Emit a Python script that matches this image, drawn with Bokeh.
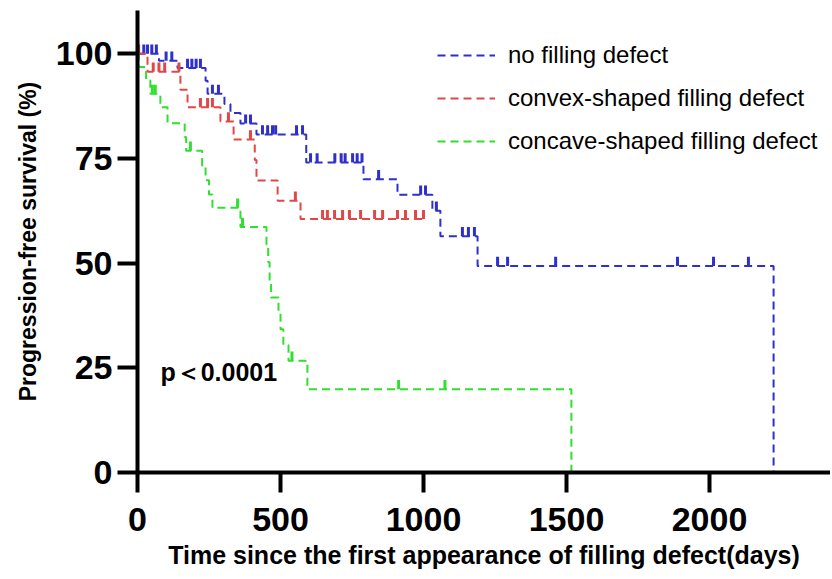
import numpy as np
from bokeh.plotting import figure
from bokeh.models import FixedTicker, Legend, LegendItem, Label, Range1d
from bokeh.embed import file_html
from bokeh.resources import INLINE

# ---------------- data ----------------
x_ticks = [0, 500, 1000, 1500, 2000]
y_ticks = [0, 25, 50, 75, 100]

series_names = ["no filling defect", "convex-shaped filling defect", "concave-shaped filling defect"]

# no filling defect (blue)
blue_t = [0, 75, 140, 238, 245, 304, 325, 360, 416, 590, 790, 909, 1031, 1059, 1189, 2224]
blue_s = [100, 98.3, 96.6, 93.5, 90.4, 88.0, 85.8, 83.3, 80.7, 74.0, 70.0, 66.3, 62.5, 56.4, 49.3, 0]
blue_censor = [22, 35, 50, 66, 100, 120, 175, 190, 205, 220, 262, 283, 378, 395, 437, 455, 472,
               483, 556, 577, 605, 628, 690, 712, 726, 752, 768, 785, 843, 990, 1007, 1045,
               1136, 1157, 1178, 1259, 1294, 1462, 1888, 2014, 2136]

# convex-shaped filling defect (red)
red_t = [0, 35, 150, 175, 290, 336, 410, 416, 490, 570, 1007]
red_s = [100, 95.7, 91.4, 87.2, 83.8, 79.5, 74.6, 69.7, 64.9, 60.5, 60.5]
red_censor = [4, 55, 75, 95, 145, 220, 245, 262, 318, 395, 552, 647, 664, 689, 717, 741, 780,
              829, 857, 909, 937, 972, 1000]

# concave-shaped filling defect (green)
green_t = [0, 5, 30, 45, 80, 105, 165, 170, 226, 238, 250, 262, 360, 451, 457, 462, 467, 493,
           500, 510, 528, 594, 1517]
green_s = [100, 96.8, 93.6, 90.4, 87.2, 83.4, 80.1, 76.8, 73.2, 69.8, 66.4, 63.2, 58.6, 54.4,
           50.2, 46.0, 41.8, 38.0, 34.2, 30.4, 26.7, 19.9, 0]
green_censor = [52, 62, 185, 350, 367, 540, 913, 1075]

p_text = "p＜0.0001"
p_text_x = 80
p_text_y = 24.1

# ---------------- style ----------------
colors = ["#2f2fcc", "#e04848", "#2fe02f"]
DASH = "8 5"
TICK_LEN = 2.2  # censor tick length in % units
FONT = "Liberation Sans"


def censor_levels(t, s, c):
    t = np.asarray(t, dtype=float)
    s = np.asarray(s, dtype=float)
    idx = np.searchsorted(t, np.asarray(c, dtype=float), side="right") - 1
    return s[idx]


p = figure(width=830, height=579, output_backend="svg", toolbar_location=None,
           x_range=Range1d(0, 2423), y_range=Range1d(0, 110.3),
           min_border_left=137, min_border_right=0, min_border_top=10, min_border_bottom=107)
p.outline_line_color = None
p.grid.visible = False
p.background_fill_color = "white"
p.border_fill_color = "white"

renderers = []
for t, s, c, col in [(blue_t, blue_s, blue_censor, colors[0]),
                     (red_t, red_s, red_censor, colors[1]),
                     (green_t, green_s, green_censor, colors[2])]:
    r = p.step(x=t, y=s, mode="after", line_color=col, line_width=2, line_dash=DASH)
    renderers.append(r)
    lv = censor_levels(t, s, c)
    p.segment(x0=c, y0=lv, x1=c, y1=lv + TICK_LEN, line_color=col, line_width=3)

p.xaxis.ticker = FixedTicker(ticks=x_ticks)
p.yaxis.ticker = FixedTicker(ticks=y_ticks)
for ax in (p.xaxis[0], p.yaxis[0]):
    ax.axis_line_width = 4
    ax.axis_line_color = "black"
    ax.major_tick_line_width = 4
    ax.major_tick_line_color = "black"
    ax.major_tick_out = 20
    ax.major_tick_in = 0
    ax.minor_tick_line_color = None
    ax.major_label_text_font = FONT
    ax.major_label_text_font_style = "bold"
    ax.major_label_text_font_size = "34px"
    ax.major_label_text_color = "black"
    ax.axis_label_text_font = FONT
    ax.axis_label_text_font_style = "bold"
    ax.axis_label_text_color = "black"

p.xaxis.axis_label = "Time since the first appearance of filling defect(days)"
p.xaxis.axis_label_text_font_size = "25px"
p.xaxis.major_label_standoff = 15
p.xaxis.axis_label_standoff = 7
p.yaxis.axis_label = "Progression-free survival (%)"
p.yaxis.axis_label_text_font_size = "23px"
p.yaxis.major_label_standoff = 5
p.yaxis.axis_label_standoff = 12

legend = Legend(items=[LegendItem(label=n, renderers=[r]) for n, r in zip(series_names, renderers)],
                location=(300, 317), orientation="vertical",
                glyph_width=58, glyph_height=28, label_height=28, label_standoff=13,
                spacing=15, padding=0, margin=0,
                border_line_color=None, background_fill_alpha=0,
                label_text_font=FONT, label_text_font_size="24px", label_text_color="black")
p.add_layout(legend)

p.add_layout(Label(x=p_text_x, y=p_text_y, text=p_text, text_font=FONT,
                   text_font_size="25px", text_font_style="bold", text_color="black",
                   text_baseline="middle", text_align="left"))

open("out.html", "w").write(file_html(p, INLINE))
